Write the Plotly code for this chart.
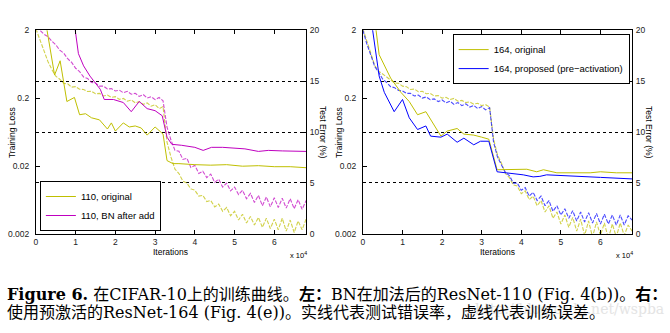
import plotly.graph_objects as go

# ---------------- data (x in units of 1e4 iterations) ----------------
# training loss, sampled every 0.1e4 iterations from 0 to 6.8
train_110_original = [2.1, 1.45, 0.98, 0.7, 0.53, 0.42, 0.38, 0.33, 0.325, 0.29, 0.295, 0.27, 0.268, 0.25, 0.252,
                      0.232, 0.235, 0.215, 0.222, 0.205, 0.21, 0.192, 0.198, 0.18, 0.188, 0.17, 0.178, 0.162, 0.17,
                      0.152, 0.16, 0.14, 0.15, 0.045, 0.027, 0.018, 0.0155, 0.012, 0.0112, 0.0092, 0.0088, 0.0072,
                      0.0074, 0.006, 0.0062, 0.005, 0.0055, 0.0043, 0.0049, 0.0037, 0.0043, 0.0032, 0.0039, 0.0029,
                      0.0036, 0.0027, 0.0035, 0.0025, 0.0034, 0.0024, 0.0033, 0.0023, 0.0034, 0.0022, 0.0032, 0.0021,
                      0.0031, 0.0023, 0.0033]
train_110_bn_after_add = [2.2, 2.0, 1.75, 1.62, 1.38, 1.22, 1.02, 0.92, 0.76, 0.67, 0.55, 0.49, 0.41, 0.39, 0.34,
                          0.335, 0.3, 0.3, 0.272, 0.276, 0.255, 0.262, 0.24, 0.252, 0.228, 0.236, 0.212, 0.226, 0.2,
                          0.21, 0.19, 0.204, 0.182, 0.075, 0.048, 0.034, 0.033, 0.025, 0.026, 0.019, 0.0205, 0.0155,
                          0.0168, 0.0135, 0.0152, 0.0115, 0.0128, 0.0098, 0.0112, 0.0086, 0.0098, 0.0076, 0.0088,
                          0.0066, 0.0079, 0.0058, 0.0074, 0.0052, 0.007, 0.005, 0.0068, 0.0049, 0.0067, 0.0048, 0.0066,
                          0.0047, 0.0064, 0.0046, 0.0062]
train_164_original = [2.1, 1.35, 0.88, 0.6, 0.5, 0.45, 0.4, 0.37, 0.335, 0.33, 0.3, 0.295, 0.268, 0.272, 0.248, 0.252,
                      0.232, 0.235, 0.215, 0.218, 0.2, 0.205, 0.19, 0.198, 0.18, 0.185, 0.172, 0.176, 0.163, 0.168,
                      0.155, 0.16, 0.148, 0.05, 0.029, 0.022, 0.0155, 0.0135, 0.0105, 0.0102, 0.0078, 0.0086, 0.0064,
                      0.0072, 0.0052, 0.0062, 0.0042, 0.0052, 0.0034, 0.0042, 0.0028, 0.0038, 0.0025, 0.0035, 0.0022,
                      0.0033, 0.0019, 0.0031, 0.0018, 0.003, 0.0019, 0.0029, 0.0017, 0.0028, 0.0018, 0.0029, 0.0019,
                      0.0027, 0.0022]
train_164_preact = [2.0, 1.25, 0.86, 0.58, 0.48, 0.38, 0.34, 0.295, 0.285, 0.26, 0.255, 0.235, 0.235, 0.215, 0.222,
                    0.2, 0.208, 0.19, 0.195, 0.178, 0.188, 0.17, 0.18, 0.162, 0.172, 0.155, 0.165, 0.148, 0.156, 0.14,
                    0.15, 0.134, 0.145, 0.045, 0.027, 0.021, 0.016, 0.0145, 0.0112, 0.0112, 0.0088, 0.0096, 0.0072,
                    0.0082, 0.0062, 0.0072, 0.0052, 0.0062, 0.0043, 0.0052, 0.0038, 0.0047, 0.0034, 0.0044, 0.0031,
                    0.0042, 0.003, 0.0041, 0.0029, 0.004, 0.0028, 0.0039, 0.0028, 0.0038, 0.0027, 0.0038, 0.0027,
                    0.0037, 0.0032]

# test error (%)
test_110_original_x = [0.0, 0.15, 0.28, 0.47, 0.61, 0.78, 0.97, 1.1, 1.25, 1.4, 1.6, 1.8, 1.9, 2.0, 2.2, 2.35, 2.5,
                       2.65, 2.8, 3.0, 3.2, 3.3, 3.45, 3.6, 4.0, 4.4, 4.8, 5.2, 5.6, 6.0, 6.4, 6.8]
test_110_original_y = [24.0, 22.0, 20.0, 15.6, 17.0, 13.0, 13.4, 11.7, 11.8, 11.4, 11.2, 10.3, 10.9, 10.1, 10.9, 10.5,
                       10.6, 10.4, 9.7, 10.5, 9.8, 7.2, 6.9, 6.9, 6.8, 6.75, 6.8, 6.65, 6.7, 6.6, 6.6, 6.5]
test_110_bn_x = [0.8, 0.99, 1.07, 1.2, 1.36, 1.62, 1.72, 1.95, 2.2, 2.4, 2.6, 2.8, 3.0, 3.18, 3.3, 3.42, 3.67, 3.85,
                 4.0, 4.21, 4.42, 4.7, 5.0, 5.26, 5.6, 5.85, 6.2, 6.5, 6.8]
test_110_bn_y = [24.0, 20.0, 17.7, 16.5, 15.5, 14.2, 13.2, 13.2, 12.9, 12.0, 13.0, 12.3, 12.1, 11.6, 9.5, 8.8, 8.7,
                 8.6, 8.5, 8.2, 8.5, 8.5, 8.4, 8.35, 8.1, 8.2, 8.15, 8.1, 8.1]
test_164_original_x = [0.2, 0.32, 0.41, 0.7, 0.96, 1.17, 1.38, 1.59, 1.8, 1.97, 2.13, 2.38, 2.55, 2.8, 3.0, 3.18,
                       3.39, 3.72, 4.14, 4.39, 4.56, 4.9, 5.3, 5.74, 6.0, 6.4, 6.8]
test_164_original_y = [24.0, 20.0, 17.6, 15.3, 13.9, 13.0, 11.7, 12.0, 10.6, 9.6, 10.1, 10.35, 9.8, 9.7, 9.5, 9.3,
                       6.3, 6.3, 6.35, 6.1, 6.3, 6.0, 6.0, 6.0, 6.1, 6.0, 6.0]
test_164_preact_x = [0.1, 0.24, 0.41, 0.54, 0.79, 1.0, 1.17, 1.38, 1.59, 1.71, 1.97, 2.13, 2.38, 2.55, 2.8, 2.97,
                     3.18, 3.39, 3.72, 4.05, 4.3, 4.47, 4.64, 5.3, 6.0, 6.8]
test_164_preact_y = [24.0, 20.0, 15.5, 13.9, 12.0, 13.2, 11.4, 10.25, 10.6, 9.6, 9.5, 9.8, 9.0, 9.4, 8.75, 9.1, 9.1,
                     6.1, 5.97, 5.8, 5.6, 5.65, 5.8, 5.65, 5.55, 5.4]

x_ticks = [0, 1, 2, 3, 4, 5, 6]
loss_ticks = [0.002, 0.02, 0.2, 2]
loss_ticktext = ["0.002", "0.02", "0.2", "2"]
err_ticks = [0, 5, 10, 15, 20]

left_names = ["110, original", "110, BN after add"]
right_names = ["164, original", "164, proposed (pre\u2212activation)"]

OLIVE = "#bfbf00"
MAGENTA = "#bf00bf"
BLUE = "#0000ff"

for arr in (train_110_original, train_110_bn_after_add, train_164_original, train_164_preact):
    assert len(arr) == 69


def grid(vals):
    return [round(i * 0.1, 1) for i in range(len(vals))]


fig = go.Figure()
TRAIN_DASH = "4px,1.5px"

# ---- left panel: training loss (dashed) ----
for vals, col in ((train_110_original, OLIVE), (train_110_bn_after_add, MAGENTA)):
    fig.add_trace(go.Scatter(x=grid(vals), y=vals, mode="lines", xaxis="x", yaxis="y",
                             line=dict(color=col, width=1.1, dash=TRAIN_DASH), opacity=0.7,
                             showlegend=False, hoverinfo="skip"))
# ---- left panel: test error (solid) ----
fig.add_trace(go.Scatter(x=test_110_original_x, y=test_110_original_y, mode="lines", xaxis="x", yaxis="y2",
                         line=dict(color=OLIVE, width=1), name=left_names[0], legend="legend"))
fig.add_trace(go.Scatter(x=test_110_bn_x, y=test_110_bn_y, mode="lines", xaxis="x", yaxis="y2",
                         line=dict(color=MAGENTA, width=1), name=left_names[1], legend="legend"))

# ---- right panel ----
for vals, col in ((train_164_original, OLIVE), (train_164_preact, BLUE)):
    fig.add_trace(go.Scatter(x=grid(vals), y=vals, mode="lines", xaxis="x2", yaxis="y3",
                             line=dict(color=col, width=1.1, dash=TRAIN_DASH), opacity=0.7,
                             showlegend=False, hoverinfo="skip"))
fig.add_trace(go.Scatter(x=test_164_original_x, y=test_164_original_y, mode="lines", xaxis="x2", yaxis="y4",
                         line=dict(color=OLIVE, width=1), name=right_names[0], legend="legend2"))
fig.add_trace(go.Scatter(x=test_164_preact_x, y=test_164_preact_y, mode="lines", xaxis="x2", yaxis="y4",
                         line=dict(color=BLUE, width=1), name=right_names[1], legend="legend2"))

W, H = 670, 333
TICKFONT = dict(family="Liberation Sans, Arial, sans-serif", size=8.5, color="#222")
ydom = [1 - 236 / H, 1 - 26 / H]


def xax(dom, anchor):
    return dict(domain=dom, anchor=anchor, range=[0, 6.8], tickvals=x_ticks, ticks="inside", ticklen=4,
                showline=True, linecolor="black", linewidth=1, mirror="ticks", showgrid=False, zeroline=False,
                tickfont=TICKFONT, tickcolor="black")


def yloss(anchor):
    return dict(domain=ydom, anchor=anchor, type="log", range=[-2.69897, 0.30103], tickvals=loss_ticks,
                ticktext=loss_ticktext, ticks="inside", ticklen=4, showline=True, linecolor="black",
                showgrid=False, zeroline=False, tickfont=TICKFONT, tickcolor="black", ticklabelstandoff=4)


def yerr(overlay, anchor):
    return dict(overlaying=overlay, anchor=anchor, side="right", range=[0, 20], tickvals=err_ticks,
                ticks="inside", ticklen=4, showline=True, linecolor="black", showgrid=True,
                gridcolor="black", griddash="dot", gridwidth=1, zeroline=False, tickfont=TICKFONT,
                tickcolor="black", ticklabelstandoff=1)


LFONT = dict(family="Liberation Sans, Arial, sans-serif", size=8.5, color="black")
CAPFONT = dict(family="DejaVu Serif, Noto Sans CJK SC", size=16, color="black")

ann = []
for xl, xr, xc in ((34, 305, 169), (362, 632, 497)):
    ann.append(dict(x=xc / W, y=1 - 255 / H, xref="paper", yref="paper", text="Iterations", showarrow=False,
                    font=LFONT, xanchor="center", yanchor="middle"))
    ann.append(dict(x=(xr - 18) / W, y=1 - 258 / H, xref="paper", yref="paper", text="x 10<sup>4</sup>",
                    showarrow=False, font=dict(LFONT, size=7.5), xanchor="left", yanchor="middle"))
    ann.append(dict(x=(xl - 24) / W, y=1 - 131 / H, xref="paper", yref="paper", text="Training Loss",
                    showarrow=False, font=LFONT, textangle=-90, xanchor="center", yanchor="middle"))
    ann.append(dict(x=(xr + 17) / W, y=1 - 131 / H, xref="paper", yref="paper", text="Test Error (%)",
                    showarrow=False, font=LFONT, textangle=90, xanchor="center", yanchor="middle"))

ann.append(dict(x=666 / W, y=1 - 313 / H, xref="paper", yref="paper", text="http://blog.csdn.net/wspba",
                showarrow=False, font=dict(family="DejaVu Serif", size=14, color="#e4e4e4"),
                xanchor="right", yanchor="middle"))
ann.append(dict(x=3 / W, y=1 - 298 / H, xref="paper", yref="paper",
                text="<b>Figure 6.</b> 在CIFAR-10上的训练曲线。<b>左：</b>BN在加法后的ResNet-110 (Fig. 4(b))。<b>右：</b>",
                showarrow=False, font=CAPFONT, xanchor="left", yanchor="middle"))
ann.append(dict(x=3 / W, y=1 - 317 / H, xref="paper", yref="paper",
                text="使用预激活的ResNet-164 (Fig. 4(e))。实线代表测试错误率，虚线代表训练误差。",
                showarrow=False, font=CAPFONT, xanchor="left", yanchor="middle"))

LEGFONT = dict(family="Liberation Sans, Arial, sans-serif", size=9.5, color="black")

fig.update_layout(
    width=W, height=H, margin=dict(l=0, r=0, t=0, b=0),
    paper_bgcolor="white", plot_bgcolor="white",
    xaxis=xax([34 / W, 305 / W], "y"),
    yaxis=yloss("x"),
    yaxis2=yerr("y", "x"),
    xaxis2=xax([362 / W, 632 / W], "y3"),
    yaxis3=yloss("x2"),
    yaxis4=yerr("y3", "x2"),
    legend=dict(x=38 / W, y=1 - 233 / H, xanchor="left", yanchor="bottom", bgcolor="white",
                bordercolor="black", borderwidth=1, font=LEGFONT, itemwidth=30, tracegroupgap=0),
    legend2=dict(x=452 / W, y=1 - 30 / H, xanchor="left", yanchor="top", bgcolor="white",
                 bordercolor="black", borderwidth=1, font=LEGFONT, itemwidth=30, tracegroupgap=0),
    annotations=ann,
    showlegend=True,
)

fig.write_html("out.html")
